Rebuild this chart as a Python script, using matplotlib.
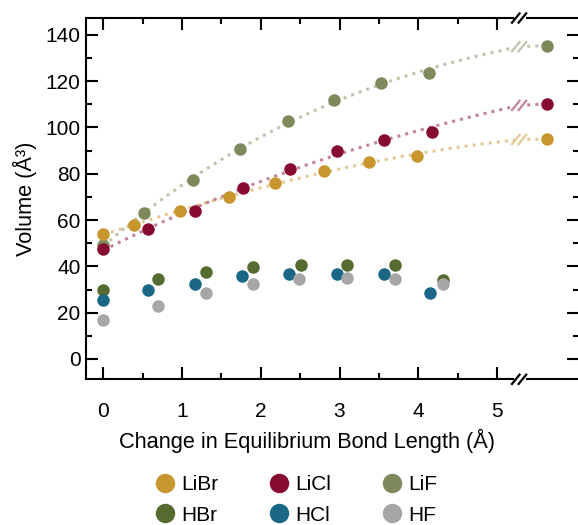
import matplotlib
matplotlib.use("Agg")
import matplotlib.pyplot as plt
import numpy as np
from matplotlib.lines import Line2D

plt.rcParams["font.family"] = ["Liberation Sans", "DejaVu Sans"]

# bond-length change (Å) for each series; the last value of the Li series sits past the axis break
x_libr = [0, 0.39, 0.98, 1.59, 2.18, 2.80, 3.38, 3.98]
v_libr = [54.0, 57.7, 64.1, 69.9, 75.8, 81.0, 85.1, 87.8]
x_licl = [0, 0.57, 1.17, 1.77, 2.37, 2.97, 3.56, 4.17]
v_licl = [47.6, 56.1, 64.0, 73.7, 82.0, 89.9, 94.7, 98.0]
x_lif = [0, 0.52, 1.14, 1.74, 2.34, 2.93, 3.53, 4.13]
v_lif = [49.3, 63.0, 77.3, 90.7, 102.9, 111.7, 119.2, 123.5]
v_inf = {"LiBr": 95.0, "LiCl": 110.2, "LiF": 135.4}

x_hbr = [0, 0.70, 1.30, 1.90, 2.51, 3.10, 3.71, 4.31]
v_hbr = [30.0, 34.5, 37.4, 39.7, 40.7, 40.7, 40.7, 33.9]
x_hcl = [0, 0.57, 1.17, 1.76, 2.36, 2.97, 3.57, 4.15]
v_hcl = [25.3, 29.6, 32.5, 35.9, 36.9, 36.9, 36.9, 28.7]
x_hf = [0, 0.70, 1.30, 1.90, 2.48, 3.09, 3.71, 4.31]
v_hf = [16.8, 23.0, 28.7, 32.5, 34.5, 34.9, 34.5, 32.5]

colors = {
    "LiBr": "#C8962F", "LiCl": "#870A31", "LiF": "#7F8A5C",
    "HBr": "#566B30", "HCl": "#1B6786", "HF": "#A6A6A6",
}

X_BREAK = 5.28   # where the axis is broken
X_INF = 5.63     # slot used for the separated-ions value

fig = plt.figure(figsize=(5.78, 5.25), dpi=100)
ax = fig.add_axes([0.1488, 0.2775, 0.8535, 0.6882])
ax.set_xlim(-0.22, 6.045)
ax.set_ylim(-8.8, 147.3)

series_li = [("LiF", x_lif, v_lif), ("LiBr", x_libr, v_libr), ("LiCl", x_licl, v_licl)]
curve_ends = {}
for name, xs, vs in series_li:
    c = colors[name]
    fx = np.array(xs + [X_BREAK])
    fy = np.array(vs + [v_inf[name]])
    coef = np.polyfit(fx, fy, 3)
    xx = np.linspace(0, X_BREAK, 200)
    yy = np.polyval(coef, xx)
    ax.plot(xx, yy, ls=":", lw=2.2, color=c, alpha=0.5, zorder=2)
    ax.plot([X_BREAK, X_INF], [yy[-1], v_inf[name]], ls=":", lw=2.2, color=c, alpha=0.5, zorder=2)
    curve_ends[name] = yy[-1]
    ax.plot(xs + [X_INF], vs + [v_inf[name]], "o", ms=9, color=c, mec="none", zorder=4)

for name, xs, vs in [("HBr", x_hbr, v_hbr), ("HCl", x_hcl, v_hcl), ("HF", x_hf, v_hf)]:
    ax.plot(xs, vs, "o", ms=9, color=colors[name], mec="none", zorder=4)

ax.set_xticks([0, 1, 2, 3, 4, 5])
ax.set_xticks(np.arange(0.5, 5, 1.0), minor=True)
ax.set_yticks(np.arange(0, 141, 20))
ax.set_yticks(np.arange(10, 141, 20), minor=True)
ax.tick_params(which="both", direction="in", top=True, right=True, width=1.5, labelsize=15)
ax.tick_params(which="major", length=8.5)
ax.tick_params(which="minor", length=4.3)
ax.tick_params(axis="x", pad=16)
ax.tick_params(axis="y", pad=4)
for s in ax.spines.values():
    s.set_linewidth(1.5)

ax.set_xlabel("Change in Equilibrium Bond Length (Å)", fontsize=15.7, labelpad=6)
ax.xaxis.set_label_coords(0.448, -0.138)
ax.set_ylabel("Volume (Å³)", fontsize=15.7, labelpad=6)


def draw_break(px, py, color, alpha=1.0, gap=True):
    # two short slashes in pixel space, with a white gap between them
    if gap:
        fig.add_artist(Line2D([px - 3.5, px + 3.5], [py, py], transform=None,
                              color="white", lw=3.5, zorder=10))
    for dx in (-3.3, 3.3):
        fig.add_artist(Line2D([px + dx - 4.5, px + dx + 4.5], [py - 5.5, py + 5.5],
                              transform=None, color=color, alpha=alpha,
                              lw=1.6, zorder=11, solid_capstyle="butt"))


bx = ax.transData.transform((X_BREAK, 0))[0]
for yy in (0, 1):
    py = ax.transAxes.transform((0, yy))[1]
    draw_break(bx, py, "black")
for name in ("LiF", "LiCl", "LiBr"):
    px, py = ax.transData.transform((X_BREAK, curve_ends[name]))
    draw_break(px, py, colors[name], alpha=0.5)

order = ["LiBr", "HBr", "LiCl", "HCl", "LiF", "HF"]
handles = [Line2D([], [], ls="none", marker="o", ms=14, color=colors[n], mec="none") for n in order]
fig.legend(handles, order, loc="center", bbox_to_anchor=(0.512, 0.048), ncol=3,
           frameon=False, fontsize=15, handlelength=1.0, handletextpad=0.3,
           columnspacing=2.4, labelspacing=0.55, borderpad=0)

fig.savefig("out.png", dpi=100)
